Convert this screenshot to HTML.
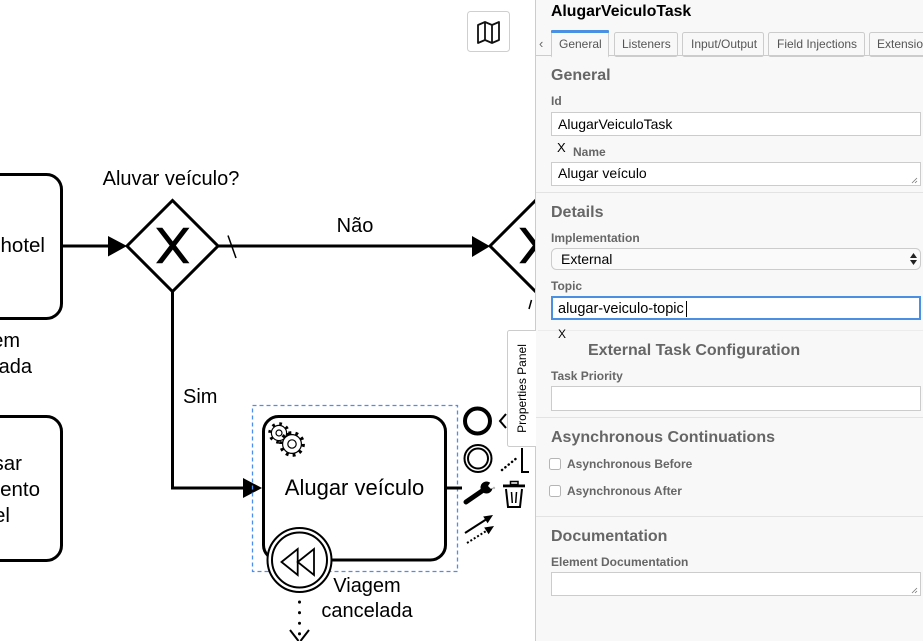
<!DOCTYPE html>
<html>
<head>
<meta charset="utf-8">
<style>
  html, body { margin: 0; padding: 0; background: #ffffff; }
  body { width: 923px; height: 641px; overflow: hidden; }
  svg { display: block; }
  text { font-family: "Liberation Sans", Arial, sans-serif; }
</style>
</head>
<body>
<svg width="923" height="641" viewBox="0 0 923 641" xmlns="http://www.w3.org/2000/svg">
  <rect x="0" y="0" width="923" height="641" fill="#ffffff"/>

  <!-- ===== DIAGRAM ===== -->
  <rect x="-30" y="174.5" width="91.5" height="144" rx="15" fill="#fff" stroke="#000" stroke-width="3"/>
  <rect x="-30" y="416.5" width="91.5" height="144" rx="15" fill="#fff" stroke="#000" stroke-width="3"/>
  <text x="45" y="252" text-anchor="end" font-size="20.5" fill="#000">hotel</text>
  <text x="20" y="347" text-anchor="end" font-size="20" fill="#000">em</text>
  <text x="32" y="373" text-anchor="end" font-size="20" fill="#000">ada</text>
  <text x="22" y="470" text-anchor="end" font-size="20.5" fill="#000">sar</text>
  <text x="40" y="496" text-anchor="end" font-size="20.5" fill="#000">ento</text>
  <text x="10" y="522" text-anchor="end" font-size="20.5" fill="#000">el</text>

  <!-- flow into gateway 1 -->
  <line x1="63" y1="246" x2="112" y2="246" stroke="#000" stroke-width="3"/>
  <polygon points="108,236 127,246 108,256.5" fill="#000"/>

  <!-- gateway 1 -->
  <polygon points="127,246 172.5,200.5 218,246 172.5,291.5" fill="#fff" stroke="#000" stroke-width="3" stroke-linejoin="miter"/>
  <path transform="translate(126.75,200.25) scale(1.83)" fill="#000" d="m 16,15 7.42857142857143,9.714285714285714 -7.42857142857143,9.714285714285714 3.428571428571429,0 5.714285714285715,-7.464228571428571 5.714285714285715,7.464228571428571 3.428571428571429,0 -7.42857142857143,-9.714285714285714 7.42857142857143,-9.714285714285714 -3.428571428571429,0 -5.714285714285715,7.464228571428571 -5.714285714285715,-7.464228571428571 -3.428571428571429,0 z"/>
  <text x="171" y="185" text-anchor="middle" font-size="20" fill="#000">Aluvar veículo?</text>

  <!-- Não flow -->
  <line x1="218" y1="246" x2="476" y2="246" stroke="#000" stroke-width="3"/>
  <line x1="228" y1="235.5" x2="236" y2="258" stroke="#000" stroke-width="1.5"/>
  <polygon points="472,236 490,246.3 472,257" fill="#000"/>
  <text x="355" y="232" text-anchor="middle" font-size="20" fill="#000">Não</text>

  <!-- gateway 2 (clipped by panel) -->
  <polygon points="490,246 535.75,200.25 581.5,246 535.75,291.75" fill="#fff" stroke="#000" stroke-width="3"/>
  <path transform="translate(490,200.25) scale(1.83)" fill="#000" d="m 16,15 7.42857142857143,9.714285714285714 -7.42857142857143,9.714285714285714 3.428571428571429,0 5.714285714285715,-7.464228571428571 5.714285714285715,7.464228571428571 3.428571428571429,0 -7.42857142857143,-9.714285714285714 7.42857142857143,-9.714285714285714 -3.428571428571429,0 -5.714285714285715,7.464228571428571 -5.714285714285715,-7.464228571428571 -3.428571428571429,0 z"/>
  <line x1="529" y1="309" x2="531.5" y2="300" stroke="#000" stroke-width="1.5"/>

  <!-- Sim flow -->
  <polyline points="172.5,291.5 172.5,488 247,488" fill="none" stroke="#000" stroke-width="3"/>
  <polygon points="243,478 262,488 243,498" fill="#000"/>
  <text x="183" y="403" font-size="20" fill="#000">Sim</text>

  <!-- selection box -->
  <rect x="252.5" y="405.5" width="205" height="166" fill="none" stroke="#4a8ff0" stroke-width="1.3" stroke-dasharray="4 3"/>

  <!-- main task -->
  <rect x="263.5" y="416.5" width="182" height="143.5" rx="15" fill="#fff" stroke="#000" stroke-width="3"/>
  <!-- gears -->
  <circle cx="279" cy="433" r="9" fill="none" stroke="#000" stroke-width="3.5" stroke-dasharray="2.6 4.47"/>
  <circle cx="279" cy="433" r="7.6" fill="#fff" stroke="#000" stroke-width="1.2"/>
  <circle cx="279" cy="433" r="3" fill="#fff" stroke="#000" stroke-width="1.2"/>
  <circle cx="292" cy="444" r="11" fill="none" stroke="#000" stroke-width="3.8" stroke-dasharray="2.8 4.06"/>
  <circle cx="292" cy="444" r="9.4" fill="#fff" stroke="#000" stroke-width="1.2"/>
  <circle cx="292" cy="444" r="4.2" fill="#fff" stroke="#000" stroke-width="1.2"/>
  <text x="354.5" y="495" text-anchor="middle" font-size="22" fill="#000">Alugar veículo</text>

  <!-- outgoing flow stub -->
  <line x1="446" y1="488" x2="462" y2="488" stroke="#000" stroke-width="3"/>

  <!-- boundary event -->
  <circle cx="299.5" cy="560" r="32" fill="#fff" stroke="#000" stroke-width="2"/>
  <circle cx="299.5" cy="560" r="27.5" fill="#fff" stroke="#000" stroke-width="2"/>
  <polygon points="281.5,562 297.7,549 297.7,575" fill="#fff" stroke="#000" stroke-width="1.8" stroke-linejoin="miter"/>
  <polygon points="297.7,562 314,549 314,575" fill="#fff" stroke="#000" stroke-width="1.8" stroke-linejoin="miter"/>
  <text x="367" y="592" text-anchor="middle" font-size="20" fill="#000">Viagem</text>
  <text x="367" y="617" text-anchor="middle" font-size="20" fill="#000">cancelada</text>

  <!-- dotted flow down -->
  <line x1="299.5" y1="602" x2="299.5" y2="640" stroke="#000" stroke-width="3" stroke-linecap="round" stroke-dasharray="0.1 10.5"/>
  <line x1="290" y1="630" x2="298.5" y2="641" stroke="#000" stroke-width="2"/>
  <line x1="309" y1="630" x2="300.5" y2="641" stroke="#000" stroke-width="2"/>

  <!-- context pad -->
  <circle cx="477.5" cy="421" r="12.5" fill="#fff" stroke="#000" stroke-width="4"/>
  <polyline points="506,414 500,421 506,428" fill="none" stroke="#000" stroke-width="2"/>
  <circle cx="478" cy="458.5" r="13.5" fill="#fff" stroke="#000" stroke-width="2"/>
  <circle cx="478" cy="458.5" r="10" fill="#fff" stroke="#000" stroke-width="2"/>
  <line x1="502" y1="470" x2="518" y2="457" stroke="#000" stroke-width="2.5" stroke-linecap="round" stroke-dasharray="0.1 4.2"/>
  <polyline points="522,448 522,472 529,472" fill="none" stroke="#000" stroke-width="2"/>
  <!-- wrench -->
  <line x1="466" y1="502" x2="482" y2="491" stroke="#000" stroke-width="5" stroke-linecap="round"/>
  <circle cx="486.5" cy="487.5" r="6" fill="#000"/>
  <polygon points="488,486 492,480 496,485 491,489" fill="#fff"/>
  <circle cx="494" cy="488" r="1.2" fill="#bbb"/>
  <!-- trash -->
  <rect x="510.5" y="481.5" width="7.5" height="3" fill="none" stroke="#000" stroke-width="1.5"/>
  <rect x="503" y="484.5" width="22" height="2.8" fill="#000"/>
  <path d="M506,489 L508,507 L520,507 L522,489" fill="none" stroke="#000" stroke-width="2"/>
  <line x1="511.5" y1="492" x2="512.3" y2="503" stroke="#000" stroke-width="1.5"/>
  <line x1="516.5" y1="492" x2="515.7" y2="503" stroke="#000" stroke-width="1.5"/>
  <!-- arrows -->
  <line x1="465" y1="533" x2="486" y2="519.5" stroke="#000" stroke-width="2"/>
  <polygon points="493,515 487.6,523.3 483.2,516.5" fill="#000"/>
  <line x1="467" y1="543" x2="487" y2="530.5" stroke="#000" stroke-width="2" stroke-dasharray="2 2"/>
  <polygon points="494,526 488.6,534.3 484.2,527.5" fill="#000"/>

  <!-- map button -->
  <rect x="467.5" y="11.5" width="42" height="40" rx="3" fill="#fff" stroke="#cfcfcf" stroke-width="1"/>
  <path d="M478,25 L485,22 L492,25 L499,22 L499,40 L492,43 L485,40 L478,43 Z M485,22 L485,40 M492,25 L492,43" fill="none" stroke="#111" stroke-width="1.8" stroke-linejoin="round"/>

  <!-- Properties panel toggle tab -->
  <rect x="507.5" y="330.5" width="31" height="116" rx="2" fill="#ffffff" stroke="#cccccc" stroke-width="1"/>
  <text transform="translate(526,388.5) rotate(-90)" text-anchor="middle" font-size="12" fill="#000">Properties Panel</text>

  <!-- ===== PROPERTIES PANEL ===== -->
  <rect x="536" y="0" width="387" height="641" fill="#f8f8f8"/>
  <line x1="535.5" y1="0" x2="535.5" y2="330" stroke="#cccccc" stroke-width="1"/>
  <line x1="535.5" y1="447" x2="535.5" y2="641" stroke="#cccccc" stroke-width="1"/>

  <text x="551" y="16" font-size="15.8" font-weight="bold" fill="#000">AlugarVeiculoTask</text>

  <!-- tabs -->
  <text x="539" y="48" font-size="13" fill="#666">‹</text>
  <rect x="614.5" y="32.5" width="63" height="24" rx="2" fill="#f8f8f8" stroke="#cccccc"/>
  <rect x="682.5" y="32.5" width="81" height="24" rx="2" fill="#f8f8f8" stroke="#cccccc"/>
  <rect x="768.5" y="32.5" width="96" height="24" rx="2" fill="#f8f8f8" stroke="#cccccc"/>
  <rect x="869.5" y="32.5" width="70" height="24" rx="2" fill="#f8f8f8" stroke="#cccccc"/>
  <line x1="536" y1="55.5" x2="923" y2="55.5" stroke="#cccccc" stroke-width="1"/>
  <rect x="551.5" y="30.5" width="57" height="27" rx="2" fill="#f8f8f8" stroke="#cccccc"/>
  <rect x="552" y="55" width="56" height="3" fill="#f8f8f8"/>
  <rect x="551" y="30" width="58" height="3" rx="1" fill="#4a90e2"/>
  <text x="559" y="48" font-size="12" fill="#555">General</text>
  <text x="622" y="48" font-size="12" fill="#555">Listeners</text>
  <text x="691" y="48" font-size="12" fill="#555">Input/Output</text>
  <text x="777" y="48" font-size="12" fill="#555">Field Injections</text>
  <text x="877" y="48" font-size="12" fill="#555">Extensions</text>

  <!-- General -->
  <text x="551" y="80" font-size="16" font-weight="bold" fill="#666">General</text>
  <text x="551" y="105" font-size="12" font-weight="bold" fill="#666">Id</text>
  <rect x="551.5" y="112.5" width="369" height="23" fill="#fff" stroke="#cccccc"/>
  <text x="558" y="129" font-size="14" fill="#000">AlugarVeiculoTask</text>
  <text x="557" y="152" font-size="13" fill="#000">X</text>
  <text x="573" y="156" font-size="12" font-weight="bold" fill="#666">Name</text>
  <rect x="551.5" y="162.5" width="369" height="23" fill="#fff" stroke="#cccccc"/>
  <text x="558" y="178" font-size="14" fill="#000">Alugar veículo</text>
  <line x1="912" y1="183" x2="917" y2="178" stroke="#777" stroke-width="0.8"/>
  <line x1="915" y1="183" x2="917" y2="181" stroke="#777" stroke-width="0.8"/>
  <line x1="536" y1="192.5" x2="923" y2="192.5" stroke="#e3e3e3" stroke-width="1"/>

  <!-- Details -->
  <text x="551" y="217" font-size="16" font-weight="bold" fill="#666">Details</text>
  <text x="551" y="242" font-size="12" font-weight="bold" fill="#666">Implementation</text>
  <rect x="551.5" y="248.5" width="369" height="21" rx="5" fill="#fafafa" stroke="#cccccc"/>
  <text x="561" y="264" font-size="14" fill="#000">External</text>
  <polygon points="910,258 913.5,253 917,258" fill="#222"/>
  <polygon points="910,260 913.5,265 917,260" fill="#222"/>
  <text x="551" y="290" font-size="12" font-weight="bold" fill="#666">Topic</text>
  <rect x="552" y="297" width="368" height="22" fill="#fff" stroke="#4a90e2" stroke-width="2"/>
  <text x="558" y="313" font-size="14.5" fill="#000">alugar-veiculo-topic</text>
  <line x1="686.5" y1="301" x2="686.5" y2="317" stroke="#000" stroke-width="1"/>
  <line x1="538" y1="330.5" x2="923" y2="330.5" stroke="#ececec" stroke-width="1"/>
  <text x="558" y="338" font-size="12" fill="#000">X</text>
  <text x="588" y="355" font-size="16" font-weight="bold" fill="#666">External Task Configuration</text>
  <text x="551" y="380" font-size="12" font-weight="bold" fill="#666">Task Priority</text>
  <rect x="551.5" y="386.5" width="369" height="24" fill="#fff" stroke="#cccccc"/>
  <line x1="536" y1="417.5" x2="923" y2="417.5" stroke="#e3e3e3" stroke-width="1"/>

  <!-- Async -->
  <text x="551" y="442" font-size="16" font-weight="bold" fill="#666">Asynchronous Continuations</text>
  <rect x="549.5" y="458.5" width="11" height="11" rx="2" fill="#fff" stroke="#b5b5b5"/>
  <text x="567" y="468" font-size="12" font-weight="bold" fill="#666">Asynchronous Before</text>
  <rect x="549.5" y="485.5" width="11" height="11" rx="2" fill="#fff" stroke="#b5b5b5"/>
  <text x="567" y="495" font-size="12" font-weight="bold" fill="#666">Asynchronous After</text>
  <line x1="536" y1="516.5" x2="923" y2="516.5" stroke="#e3e3e3" stroke-width="1"/>

  <!-- Documentation -->
  <text x="551" y="541" font-size="16" font-weight="bold" fill="#666">Documentation</text>
  <text x="551" y="566" font-size="12" font-weight="bold" fill="#666">Element Documentation</text>
  <rect x="551.5" y="572.5" width="369" height="23" fill="#fff" stroke="#cccccc"/>
  <line x1="912" y1="593" x2="917" y2="588" stroke="#777" stroke-width="0.8"/>
  <line x1="915" y1="593" x2="917" y2="591" stroke="#777" stroke-width="0.8"/>
</svg>
</body>
</html>
